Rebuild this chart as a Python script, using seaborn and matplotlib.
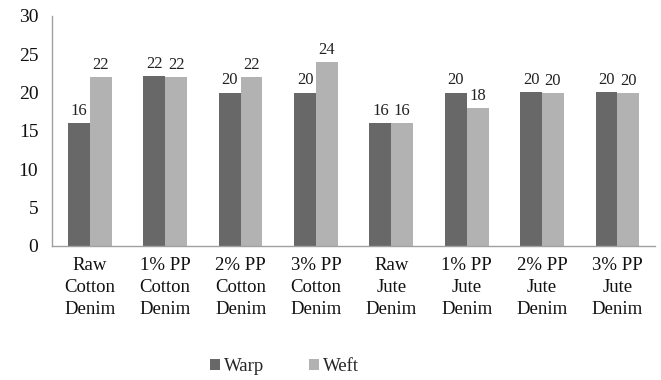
import matplotlib
matplotlib.use("Agg")
import matplotlib.pyplot as plt
import seaborn as sns
import pandas as pd

# values
categories = ["Raw\nCotton\nDenim", "1% PP\nCotton\nDenim", "2% PP\nCotton\nDenim",
              "3% PP\nCotton\nDenim", "Raw\nJute\nDenim", "1% PP\nJute\nDenim",
              "2% PP\nJute\nDenim", "3% PP\nJute\nDenim"]
warp = [16, 22.2, 20, 20, 16, 20, 20.1, 20.1]
weft = [22, 22, 22, 24, 16, 18, 19.9, 19.9]
series = ["Warp", "Weft"]
colors = ["#686868", "#b2b2b2"]
yticks = [0, 5, 10, 15, 20, 25, 30]

df = pd.DataFrame({
    "category": categories * 2,
    "value": warp + weft,
    "series": [series[0]] * len(warp) + [series[1]] * len(weft),
})

sns.set_style("white")
plt.rcParams["font.family"] = "serif"
plt.rcParams["font.serif"] = ["Liberation Serif", "DejaVu Serif"]

fig = plt.figure(figsize=(6.61, 3.80), dpi=100)
ax = fig.add_axes([0.079, 0.353, 0.912, 0.605])

sns.barplot(data=df, x="category", y="value", hue="series", palette=colors,
            width=0.58, ax=ax, edgecolor="none", linewidth=0)

for cont in ax.containers:
    ax.bar_label(cont, labels=[f"{round(v.get_height()):d}" for v in cont],
                 padding=3, fontsize=12, color="#222222")

ax.set_ylim(0, 30)
ax.set_yticks(yticks)
ax.set_xlim(-0.5, len(categories) - 0.5)
ax.set_xlabel("")
ax.set_ylabel("")
ax.tick_params(axis="y", labelsize=14, length=0, pad=10, colors="#111111")
ax.tick_params(axis="x", labelsize=13.5, length=0, pad=8, colors="#111111")
for lab in ax.get_xticklabels():
    lab.set_linespacing(1.4)

for s in ["top", "right"]:
    ax.spines[s].set_visible(False)
for s in ["left", "bottom"]:
    ax.spines[s].set_color("#a0a0a0")
    ax.spines[s].set_linewidth(1)

handles, labels = ax.get_legend_handles_labels()
ax.legend_.remove()
fig.legend(handles, labels, loc="center", bbox_to_anchor=(0.43, 0.035), ncol=2,
           frameon=False, fontsize=13.5, handlelength=0.55, handleheight=0.55,
           handletextpad=0.2, columnspacing=2.4)

fig.savefig("out.png", dpi=100)
